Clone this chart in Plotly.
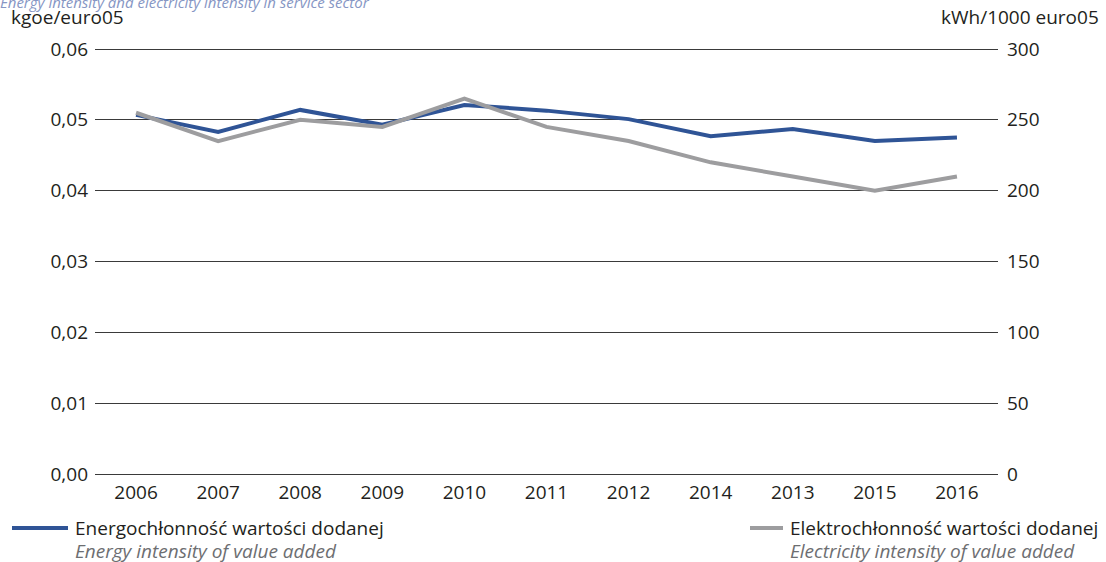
import plotly.graph_objects as go

# data
years = ["2006", "2007", "2008", "2009", "2010", "2011", "2012", "2014", "2013", "2015", "2016"]
energy_intensity = [0.0507, 0.0483, 0.0514, 0.0493, 0.0521, 0.0513, 0.0501, 0.0477, 0.0487, 0.0470, 0.0475]
electricity_intensity = [255, 235, 250, 245, 265, 245, 235, 220, 210, 200, 210]

left_ticks = [0, 0.01, 0.02, 0.03, 0.04, 0.05, 0.06]
right_ticks = [0, 50, 100, 150, 200, 250, 300]

blue = "#2f5496"
grey = "#9d9d9f"
txt = "#231f20"
font = "Open Sans"

# plot area in pixels: x 95..998, y 47..476 (2px pad so the end gridlines show)
L, R, T, B = 95, 108, 47, 86
PW, PH = 1106 - L - R, 562 - T - B
pad = 2 / 425


def px(x):
    return (x - L) / PW


def py(y):
    return (562 - B - y) / PH


fig = go.Figure()

fig.add_trace(go.Scatter(
    x=years, y=electricity_intensity, mode="lines", yaxis="y2",
    line=dict(color=grey, width=4), name="Elektrochłonność wartości dodanej",
    showlegend=False,
))
fig.add_trace(go.Scatter(
    x=years, y=energy_intensity, mode="lines",
    line=dict(color=blue, width=4), name="Energochłonność wartości dodanej",
    showlegend=False,
))

fig.update_layout(
    width=1106, height=562,
    margin=dict(l=L, r=R, t=T, b=B),
    paper_bgcolor="white", plot_bgcolor="white",
    separators=", ",
    font=dict(family=font, size=19, color=txt),
    xaxis=dict(
        type="category", range=[-0.5, 10.5], showgrid=False, showline=False,
        zeroline=False, ticks="", automargin=False, ticklabelstandoff=3,
        tickfont=dict(size=19, color=txt),
    ),
    yaxis=dict(
        range=[-0.06 * pad, 0.06 * (1 + pad)], tickvals=left_ticks, tickformat=".2f",
        showgrid=True, gridcolor="#3a3a3a", gridwidth=1,
        zeroline=False, showline=False, ticks="", automargin=False,
        ticklabelstandoff=6, tickfont=dict(size=19, color=txt),
    ),
    yaxis2=dict(
        range=[-300 * pad, 300 * (1 + pad)], tickvals=right_ticks, overlaying="y",
        side="right", showgrid=False, zeroline=False, showline=False, ticks="",
        automargin=False, ticklabelstandoff=8, tickfont=dict(size=19, color=txt),
    ),
)

annotations = [
    dict(text="<i>Energy intensity and electricity intensity in service sector</i>",
         x=px(-2), y=py(2), xanchor="left", yanchor="middle",
         font=dict(size=15, color="#8696c4")),
    dict(text="kgoe/euro05", x=px(9), y=py(17), xanchor="left", yanchor="middle",
         font=dict(size=19, color=txt)),
    dict(text="kWh/1000 euro05", x=px(1101), y=py(17), xanchor="right", yanchor="middle",
         font=dict(size=19, color=txt)),
    dict(text="Energochłonność wartości dodanej", x=px(73), y=py(528),
         xanchor="left", yanchor="middle", font=dict(size=19, color=txt)),
    dict(text="<i>Energy intensity of value added</i>", x=px(73), y=py(551),
         xanchor="left", yanchor="middle", font=dict(size=19, color="#6d6e71")),
    dict(text="Elektrochłonność wartości dodanej", x=px(788), y=py(528),
         xanchor="left", yanchor="middle", font=dict(size=19, color=txt)),
    dict(text="<i>Electricity intensity of value added</i>", x=px(788), y=py(551),
         xanchor="left", yanchor="middle", font=dict(size=19, color="#6d6e71")),
]
for a in annotations:
    a.update(xref="paper", yref="paper", showarrow=False)
fig.update_layout(annotations=annotations)

# legend keys
fig.add_shape(type="line", xref="paper", yref="paper", x0=px(12), x1=px(68),
              y0=py(528), y1=py(528), line=dict(color=blue, width=4))
fig.add_shape(type="line", xref="paper", yref="paper", x0=px(750), x1=px(783),
              y0=py(528), y1=py(528), line=dict(color=grey, width=4))

# the page's default body margin would push the chart 8px down and right
fig.write_html("out.html", config={"displayModeBar": False},
               post_script="document.body.style.margin = '0';")
